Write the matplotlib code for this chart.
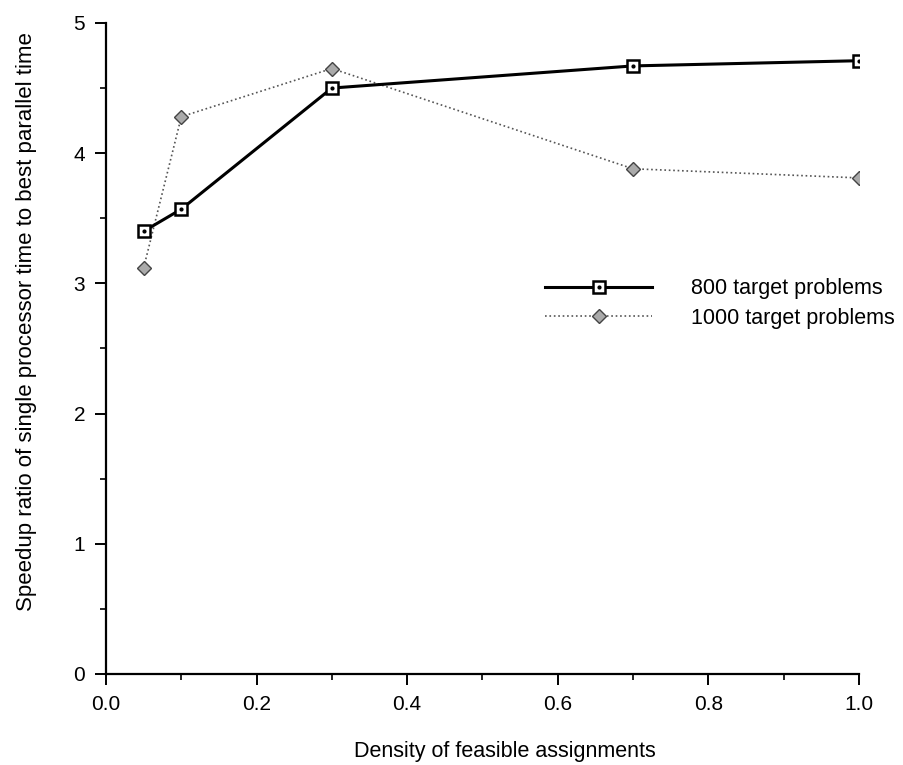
import numpy as np
import matplotlib
matplotlib.use("Agg")
import matplotlib.pyplot as plt
from matplotlib.ticker import MultipleLocator

plt.rcParams['font.family'] = ['Liberation Sans', 'DejaVu Sans']

density = [0.05, 0.1, 0.3, 0.7, 1.0]
speedup_800 = [3.40, 3.57, 4.50, 4.67, 4.71]
speedup_1000 = [3.12, 4.28, 4.65, 3.88, 3.81]
labels = ["800 target problems", "1000 target problems"]

fig = plt.figure(figsize=(9.04, 7.65), dpi=100)
ax = fig.add_axes([0.1173, 0.119, 0.8327, 0.851])

# 800 targets: thick solid line, open squares with a dot inside
l1, = ax.plot(density, speedup_800, color="black", lw=2.2, marker="s",
              ms=9, mfc="white", mec="black", mew=1.8, zorder=3)
d1, = ax.plot(density, speedup_800, ls="none", marker="o", ms=2,
              color="black", zorder=4)
# 1000 targets: thin dotted grey line, shaded diamonds
l2, = ax.plot(density, speedup_1000, color="#555555", lw=1.2, ls=":",
              marker="D", ms=7, mfc="#aaaaaa", mec="#444444", mew=1.0,
              zorder=2)

ax.set_xlim(0, 1.0)
ax.set_ylim(0, 5)
ax.xaxis.set_major_locator(MultipleLocator(0.2))
ax.xaxis.set_minor_locator(MultipleLocator(0.1))
ax.yaxis.set_major_locator(MultipleLocator(1))
ax.yaxis.set_minor_locator(MultipleLocator(0.5))
ax.xaxis.set_major_formatter(plt.FuncFormatter(lambda v, p: "%.1f" % v))

for s in ["top", "right"]:
    ax.spines[s].set_visible(False)
for s in ["left", "bottom"]:
    ax.spines[s].set_linewidth(1.6)

ax.tick_params(which="major", direction="out", length=8, width=1.4,
               labelsize=15, pad=7)
ax.tick_params(which="minor", direction="out", length=4, width=1.2)

ax.set_xlabel("Density of feasible assignments", fontsize=15.5)
ax.xaxis.set_label_coords(0.53, -0.103)
ax.set_ylabel("Speedup ratio of single processor time to best parallel time",
              fontsize=16)
ax.yaxis.set_label_coords(-0.092, 0.542)

leg = ax.legend([(l1, d1), l2], labels, loc="center left",
                bbox_to_anchor=(0.557, 0.569), frameon=False, fontsize=15.5,
                handlelength=5.0, handletextpad=1.8, numpoints=1,
                labelspacing=0.4)

fig.savefig("out.png", dpi=100)
